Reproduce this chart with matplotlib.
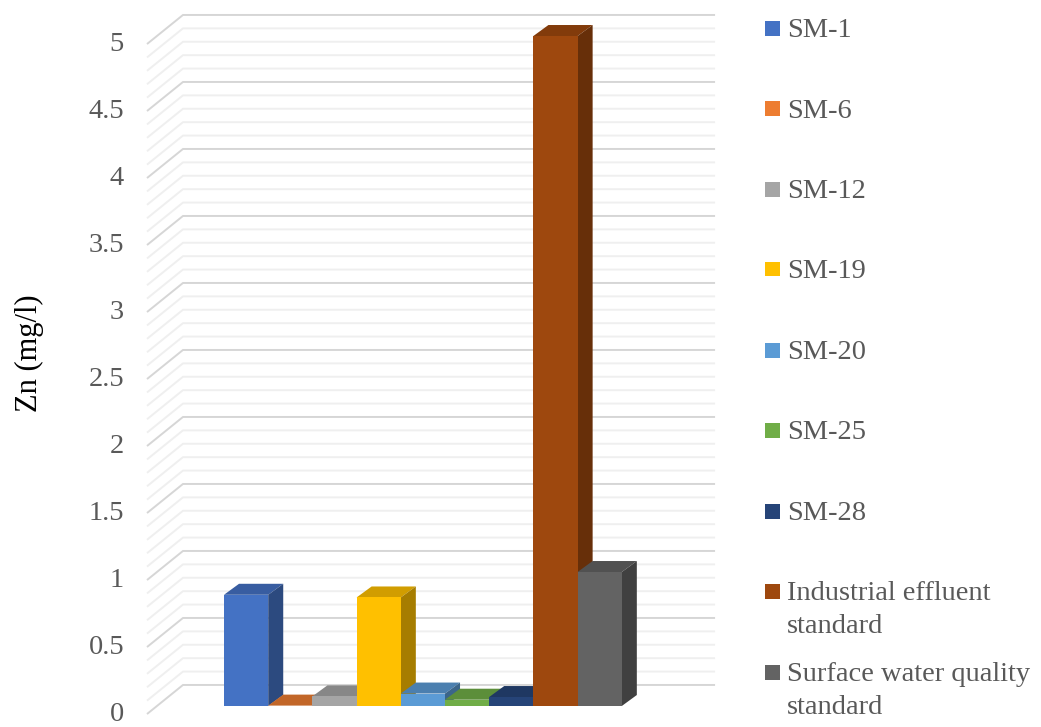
import numpy as np
import matplotlib
matplotlib.use("Agg")
import matplotlib.pyplot as plt
from matplotlib.patches import Polygon, Rectangle
from matplotlib.colors import to_rgb

plt.rcParams['font.family'] = ['Liberation Serif', 'DejaVu Serif']

stations = ['SM-1', 'SM-6', 'SM-12', 'SM-19', 'SM-20', 'SM-25', 'SM-28',
            'Industrial effluent\nstandard', 'Surface water quality\nstandard']
zn_values = [0.83, 0.003, 0.072, 0.81, 0.093, 0.047, 0.067, 5.0, 1.0]
colors = ['#4472C4', '#ED7D31', '#A5A5A5', '#FFC000', '#5B9BD5',
          '#70AD47', '#264478', '#9E480E', '#636363']
tick_values = np.arange(0, 5.01, 0.5)
tick_labels = ['0', '0.5', '1', '1.5', '2', '2.5', '3', '3.5', '4', '4.5', '5']


def shade(c, f):
    r, g, b = to_rgb(c)
    return (r * f, g * f, b * f)


def main():
    W, H = 1041, 727
    fig = plt.figure(figsize=(W / 100, H / 100), dpi=100)
    ax = fig.add_axes([0, 0, 1, 1])
    ax.set_axis_off()

    # pixel -> data mapping: category units of 44.2 px, value units of 134 px
    pxu, pxv = 44.2, 134.0
    x0, y0 = 224.0, 706.0
    ax.set_xlim(-x0 / pxu, (W - x0) / pxu)
    ax.set_ylim(-(H - y0) / pxv, y0 / pxv)

    # wall geometry (3-D look)
    fx, fdy = -1.742, -0.060   # front-left floor corner
    bx, bdy = -0.928, 0.157    # back-left corner
    rx = 11.11                 # right end of back wall
    bar_dx, bar_dy = 0.34, 0.082

    grid_minor = np.round(np.arange(0, 5.001, 0.1), 2)
    for v in grid_minor:
        major = abs(v * 2 - round(v * 2)) < 1e-6
        col = '#d6d6d6' if major else '#efefef'
        ax.plot([fx, bx, rx], [v + fdy, v + bdy, v + bdy], color=col,
                lw=1.4, zorder=1, solid_capstyle='butt')

    for v, lab in zip(tick_values, tick_labels):
        ax.text(-100 / pxu, v + fdy, lab, ha='right', va='center',
                fontsize=20.5, color='#595959')

    xs = np.arange(len(zn_values))
    z = 3
    for x, val, c in zip(xs, zn_values, colors):
        top = Polygon([(x, val), (x + bar_dx, val + bar_dy),
                       (x + 1 + bar_dx, val + bar_dy), (x + 1, val)],
                      closed=True, facecolor=shade(c, 0.82), edgecolor='none', zorder=z)
        side = Polygon([(x + 1, 0), (x + 1 + bar_dx, bar_dy),
                        (x + 1 + bar_dx, val + bar_dy), (x + 1, val)],
                       closed=True, facecolor=shade(c, 0.65), edgecolor='none', zorder=z)
        ax.add_patch(top)
        ax.add_patch(side)
        ax.bar(x, val, width=1, align='edge', color=c, zorder=z + 0.5)
        z += 1

    fig.text(29 / W, 1 - 353 / H, 'Zn (mg/l)', rotation=90, ha='center',
             va='center', fontsize=22, color='black')

    # legend
    centers = [28, 108.5, 189, 269, 350, 430, 511, 591, 672]
    for cy, lab, c in zip(centers, stations, colors):
        fig.patches.append(Rectangle((765 / W, 1 - (cy + 7.5) / H), 15 / W, 15 / H,
                                     transform=fig.transFigure, facecolor=c,
                                     edgecolor='none'))
        for i, line in enumerate(lab.split('\n')):
            fig.text(787 / W, 1 - (cy + 9 + 33 * i) / H, line, ha='left',
                     va='baseline', fontsize=20.5, color='#595959')

    fig.savefig('out.png', dpi=100)


if __name__ == '__main__':
    main()
